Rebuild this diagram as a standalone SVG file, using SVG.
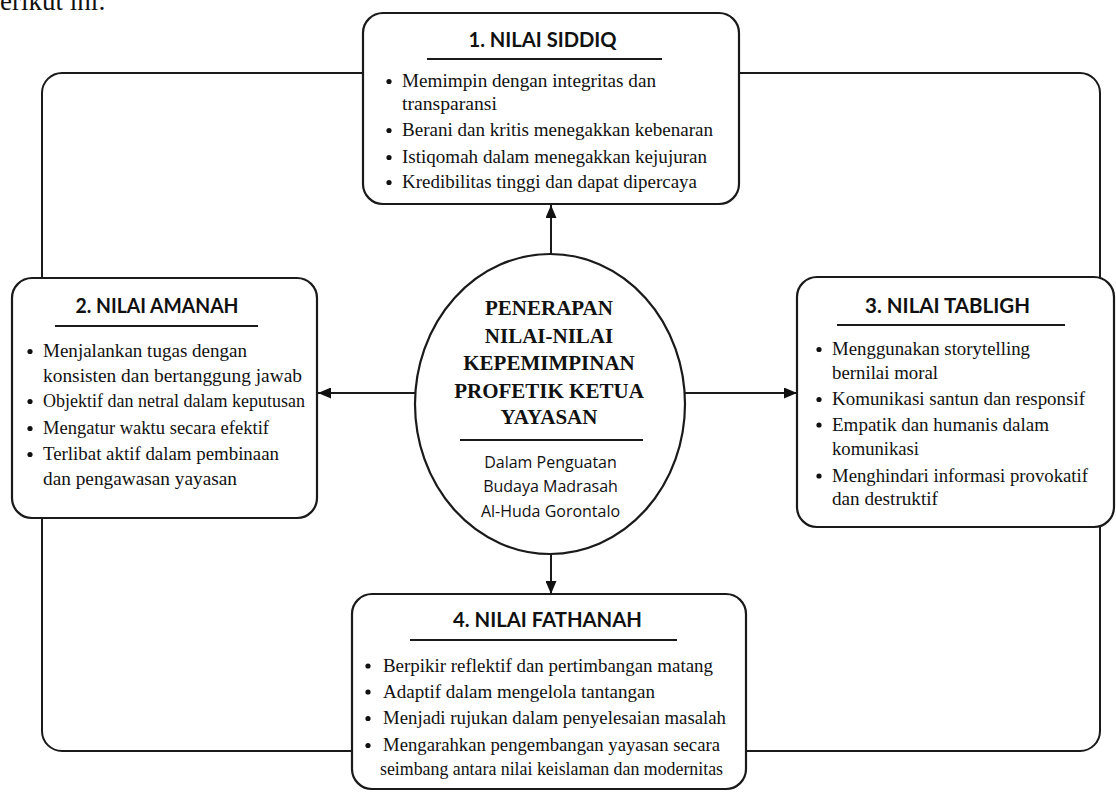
<svg xmlns="http://www.w3.org/2000/svg" width="1116" height="792" viewBox="0 0 1116 792">
<style>
.box{fill:#fff;stroke:#1a1a1a;stroke-width:2.2}
.ln{stroke:#1a1a1a;stroke-width:2;fill:none}
.ttl{font-family:Lato,"Open Sans",sans-serif;font-weight:700;font-size:20px;fill:#111;text-anchor:middle}
.it{font-family:"Liberation Serif","Times New Roman",serif;font-size:19px;fill:#111}
.ct{font-family:"Liberation Serif","Times New Roman",serif;font-weight:700;font-size:21px;fill:#111;text-anchor:middle}
.cs{font-family:"Open Sans",sans-serif;font-size:16px;fill:#111;text-anchor:middle}
.dot{fill:#111}
</style>
<defs>
<marker id="ah" viewBox="0 0 13 11" refX="13" refY="5.5" markerWidth="13" markerHeight="11" markerUnits="userSpaceOnUse" orient="auto">
<path d="M0,0 L13,5.5 L0,11 z" fill="#111"/>
</marker>
</defs>
<rect width="1116" height="792" fill="#fff"/>
<text x="-13.5" y="9.5" style="font-family:'Liberation Serif',serif;font-size:27px;fill:#111">berikut ini:</text>

<g id="connectors">
<rect class="ln" x="42" y="73" width="1058" height="678" rx="20"/>
<line class="ln" x1="551" y1="254" x2="551" y2="205" marker-end="url(#ah)"/>
<line class="ln" x1="551" y1="554" x2="551" y2="594" marker-end="url(#ah)"/>
<line class="ln" x1="416" y1="393" x2="318" y2="393" marker-end="url(#ah)"/>
<line class="ln" x1="684" y1="393" x2="797" y2="393" marker-end="url(#ah)"/>
</g>

<g id="siddiq">
<rect class="box" x="363" y="13" width="376" height="191" rx="20"/>
<text class="ttl" x="542.5" y="47" textLength="148" lengthAdjust="spacingAndGlyphs">1. NILAI SIDDIQ</text>
<line class="ln" x1="427" y1="59" x2="662" y2="59"/>
<circle class="dot" cx="389" cy="81.5" r="2.6"/>
<text class="it" x="402" y="87" textLength="254" lengthAdjust="spacingAndGlyphs">Memimpin dengan integritas dan</text>
<text class="it" x="402" y="110" textLength="95" lengthAdjust="spacingAndGlyphs">transparansi</text>
<circle class="dot" cx="389" cy="130.5" r="2.6"/>
<text class="it" x="402" y="136" textLength="311" lengthAdjust="spacingAndGlyphs">Berani dan kritis menegakkan kebenaran</text>
<circle class="dot" cx="389" cy="157.5" r="2.6"/>
<text class="it" x="402" y="163" textLength="305" lengthAdjust="spacingAndGlyphs">Istiqomah dalam menegakkan kejujuran</text>
<circle class="dot" cx="389" cy="182.5" r="2.6"/>
<text class="it" x="402" y="188" textLength="295" lengthAdjust="spacingAndGlyphs">Kredibilitas tinggi dan dapat dipercaya</text>
</g>

<g id="amanah">
<rect class="box" x="12" y="278" width="305" height="240" rx="20"/>
<text class="ttl" x="157" y="313" textLength="163" lengthAdjust="spacingAndGlyphs">2. NILAI AMANAH</text>
<line class="ln" x1="55" y1="326" x2="258" y2="326"/>
<circle class="dot" cx="30" cy="351.5" r="2.6"/>
<text class="it" x="43" y="357" textLength="204" lengthAdjust="spacingAndGlyphs">Menjalankan tugas dengan</text>
<text class="it" x="43" y="381.5" textLength="259" lengthAdjust="spacingAndGlyphs">konsisten dan bertanggung jawab</text>
<circle class="dot" cx="30" cy="401.5" r="2.6"/>
<text class="it" x="43" y="407" textLength="262" lengthAdjust="spacingAndGlyphs">Objektif dan netral dalam keputusan</text>
<circle class="dot" cx="30" cy="428.5" r="2.6"/>
<text class="it" x="43" y="434" textLength="226" lengthAdjust="spacingAndGlyphs">Mengatur waktu secara efektif</text>
<circle class="dot" cx="30" cy="454.5" r="2.6"/>
<text class="it" x="43" y="460" textLength="236" lengthAdjust="spacingAndGlyphs">Terlibat aktif dalam pembinaan</text>
<text class="it" x="43" y="485" textLength="194" lengthAdjust="spacingAndGlyphs">dan pengawasan yayasan</text>
</g>

<g id="tabligh">
<rect class="box" x="797" y="277" width="317" height="250" rx="20"/>
<text class="ttl" x="947.5" y="313" textLength="165" lengthAdjust="spacingAndGlyphs">3. NILAI TABLIGH</text>
<line class="ln" x1="837" y1="325" x2="1065" y2="325"/>
<circle class="dot" cx="819" cy="349.5" r="2.6"/>
<text class="it" x="832" y="355" textLength="198" lengthAdjust="spacingAndGlyphs">Menggunakan storytelling</text>
<text class="it" x="832" y="379" textLength="106" lengthAdjust="spacingAndGlyphs">bernilai moral</text>
<circle class="dot" cx="819" cy="399.5" r="2.6"/>
<text class="it" x="832" y="405" textLength="253" lengthAdjust="spacingAndGlyphs">Komunikasi santun dan responsif</text>
<circle class="dot" cx="819" cy="425" r="2.6"/>
<text class="it" x="832" y="430.5" textLength="217" lengthAdjust="spacingAndGlyphs">Empatik dan humanis dalam</text>
<text class="it" x="832" y="455" textLength="87" lengthAdjust="spacingAndGlyphs">komunikasi</text>
<circle class="dot" cx="819" cy="476" r="2.6"/>
<text class="it" x="832" y="481.5" textLength="256" lengthAdjust="spacingAndGlyphs">Menghindari informasi provokatif</text>
<text class="it" x="832" y="505" textLength="106" lengthAdjust="spacingAndGlyphs">dan destruktif</text>
</g>

<g id="fathanah">
<rect class="box" x="352" y="594" width="394" height="195" rx="20"/>
<text class="ttl" x="547.5" y="627" textLength="189" lengthAdjust="spacingAndGlyphs">4. NILAI FATHANAH</text>
<line class="ln" x1="410" y1="640" x2="677" y2="640"/>
<circle class="dot" cx="368" cy="666" r="2.6"/>
<text class="it" x="383" y="671.5" textLength="330" lengthAdjust="spacingAndGlyphs">Berpikir reflektif dan pertimbangan matang</text>
<circle class="dot" cx="368" cy="692" r="2.6"/>
<text class="it" x="383" y="697.5" textLength="272" lengthAdjust="spacingAndGlyphs">Adaptif dalam mengelola tantangan</text>
<circle class="dot" cx="368" cy="718.5" r="2.6"/>
<text class="it" x="383" y="724" textLength="343" lengthAdjust="spacingAndGlyphs">Menjadi rujukan dalam penyelesaian masalah</text>
<circle class="dot" cx="368" cy="745.5" r="2.6"/>
<text class="it" x="383" y="751" textLength="337" lengthAdjust="spacingAndGlyphs">Mengarahkan pengembangan yayasan secara</text>
<text class="it" x="380" y="775" textLength="343" lengthAdjust="spacingAndGlyphs">seimbang antara nilai keislaman dan modernitas</text>
</g>

<g id="center">
<ellipse class="box" cx="550" cy="404" rx="135" ry="150"/>
<text class="ct" x="549" y="315">PENERAPAN</text>
<text class="ct" x="549" y="342.5">NILAI-NILAI</text>
<text class="ct" x="549" y="370">KEPEMIMPINAN</text>
<text class="ct" x="549" y="397.5">PROFETIK KETUA</text>
<text class="ct" x="549" y="424">YAYASAN</text>
<line class="ln" x1="460" y1="440" x2="643" y2="440"/>
<text class="cs" x="550.5" y="468">Dalam Penguatan</text>
<text class="cs" x="550.5" y="492">Budaya Madrasah</text>
<text class="cs" x="550.5" y="516.5">Al-Huda Gorontalo</text>
</g>
</svg>
